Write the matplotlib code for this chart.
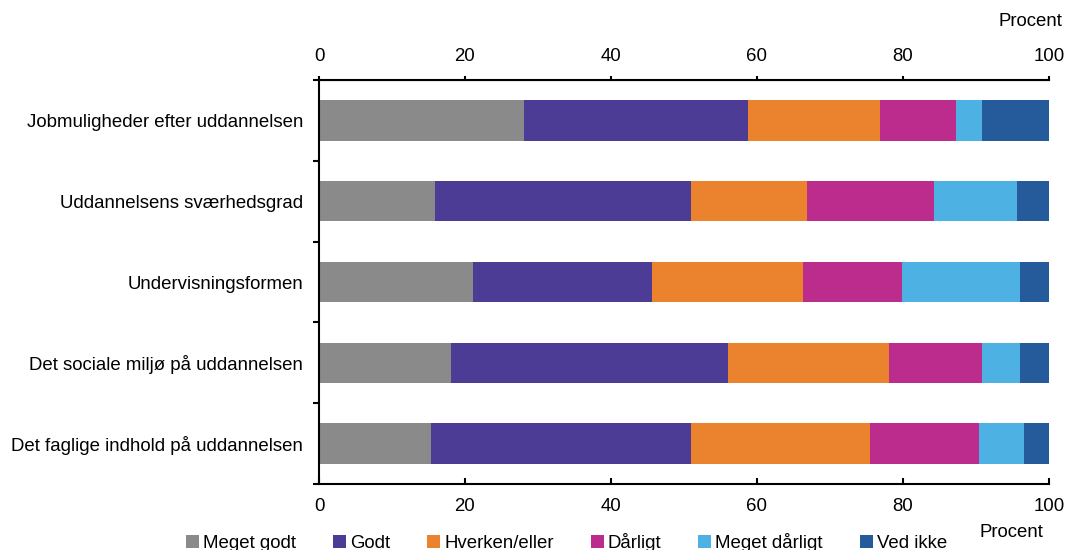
import numpy as np
import matplotlib.pyplot as plt
from matplotlib.patches import Patch

plt.rcParams['font.family'] = ['Liberation Sans', 'DejaVu Sans']

categories = ['Jobmuligheder efter uddannelsen',
              'Uddannelsens sværhedsgrad',
              'Undervisningsformen',
              'Det sociale miljø på uddannelsen',
              'Det faglige indhold på uddannelsen']
series = ['Meget godt', 'Godt', 'Hverken/eller', 'Dårligt', 'Meget dårligt', 'Ved ikke']
meget_godt = [28.1, 15.9, 21.1, 18.1, 15.3]
godt = [30.7, 35.1, 24.5, 38.0, 35.7]
hverken = [18.1, 15.8, 20.7, 22.0, 24.5]
daarligt = [10.4, 17.5, 13.6, 12.7, 14.9]
meget_daarligt = [3.6, 11.4, 16.2, 5.3, 6.2]
ved_ikke = [9.1, 4.3, 3.9, 3.9, 3.4]
colors = ['#8a8a8a', '#4d3c96', '#ea822e', '#bc2c8d', '#4eb1e3', '#255b9a']

values = [meget_godt, godt, hverken, daarligt, meget_daarligt, ved_ikke]

fig = plt.figure(figsize=(10.67, 5.5), dpi=100)
ax = fig.add_axes([0.299, 0.12, 0.684, 0.7345])

y = np.arange(len(categories))
left = np.zeros(len(categories))
for vals, col, name in zip(values, colors, series):
    ax.barh(y, vals, left=left, height=0.5, color=col, label=name, edgecolor='none')
    left += np.array(vals)

ax.set_xlim(0, 100)
ax.set_ylim(len(categories) - 0.5, -0.5)
ax.set_xticks(range(0, 101, 20))
ax.tick_params(axis='x', labelsize=13.4, width=1.5)
ax.tick_params(axis='x', bottom=True, top=False, direction='in', length=4, pad=10)
ax.secondary_xaxis('top').tick_params(labelsize=13.4, width=1.5, direction='out', length=3, pad=8)
ax.set_yticks(y)
ax.set_yticklabels(categories, fontsize=13.4)
ax.tick_params(axis='y', which='major', length=0, pad=11.5)
ax.set_yticks(np.arange(-0.5, len(categories), 1), minor=True)
ax.tick_params(axis='y', which='minor', length=4, width=1.5, direction='out')
ax.spines['right'].set_visible(False)
for s in ['left', 'top', 'bottom']:
    ax.spines[s].set_linewidth(1.5)

fig.text(0.996, 0.96, 'Procent', ha='right', va='center', fontsize=13.4)
fig.text(0.978, 0.032, 'Procent', ha='right', va='center', fontsize=13.4)

handles = [Patch(facecolor=c, edgecolor='none') for c in colors]
fig.legend(handles, series, loc='center', bbox_to_anchor=(0.531, 0.014), ncol=6,
           frameon=False, fontsize=13.4, handlelength=0.7, handleheight=0.7,
           handletextpad=0.2, columnspacing=2.0, borderpad=0)

fig.savefig('out.png', dpi=100)
